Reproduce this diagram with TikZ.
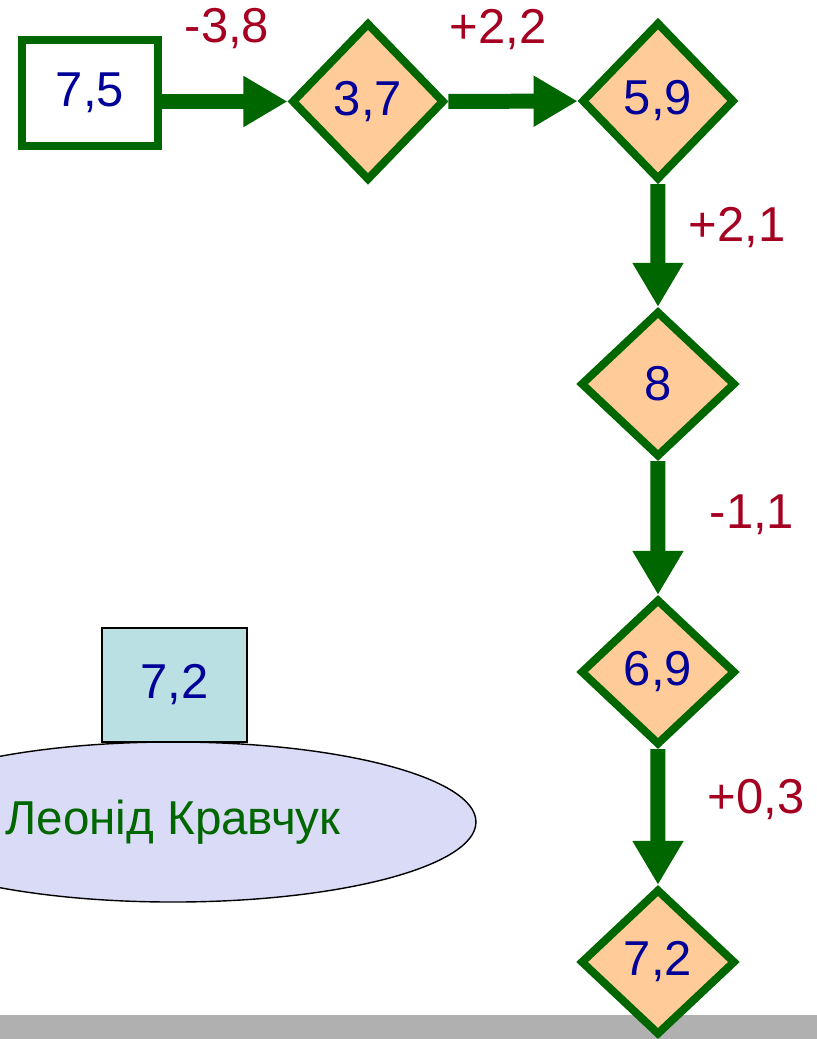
\documentclass[tikz,border=0pt]{standalone}
\usepackage{fontspec}
\setmainfont{Liberation Sans}
\usetikzlibrary{shapes.geometric,arrows.meta}
\definecolor{dgreen}{RGB}{0,102,0}
\definecolor{peach}{RGB}{255,204,153}
\definecolor{dblue}{RGB}{0,0,153}
\definecolor{dred}{RGB}{165,0,33}
\definecolor{lcyan}{RGB}{187,224,227}
\definecolor{lviolet}{RGB}{218,219,247}
\definecolor{bargray}{RGB}{176,176,176}

\begin{document}
\begin{tikzpicture}[scale=0.15]
	\tikzstyle{every node}+=[inner sep=0pt, font=\fontsize{20.9pt}{25pt}\selectfont]
	\tikzstyle{val}=[shape=diamond, draw=dgreen, line width=3.4pt, fill=peach, text=dblue, minimum width=66.2pt, minimum height=62.4pt]
	\tikzstyle{valtop}=[val, minimum width=65.3pt, minimum height=67.5pt]
	\tikzstyle{delta}=[text=dred, anchor=base]
	\tikzstyle{flow}=[dgreen, line width=6.4pt, -{Triangle[length=18.8pt,width=20.5pt]}]
	\useasboundingbox (0,0) rectangle (81.7,-103.9);
	\clip (0,0) rectangle (81.7,-103.9);
	\fill [bargray] (0,-101.5) rectangle (81.7,-103.9);
	\node [draw=dgreen, line width=3.4pt, fill=white, text=dblue, minimum width=58pt, minimum height=45.2pt] (start) at (9,-9.3) {7,5};
	\node [valtop] (v1) at (36.8,-10.15) {3,7};
	\node [valtop] (v2) at (65.8,-10.1) {5,9};
	\node [val] (v3) at (65.8,-38.4) {8};
	\node [val] (v4) at (65.8,-67.2) {6,9};
	\node [val] (v5) at (65.8,-96.2) {7,2};
	\draw [flow] (start.east |- v1.west) -- (v1.west);
	\draw [flow] (v1) -- (v2);
	\draw [flow] (v2) -- (v3);
	\draw [flow] (v3) -- (v4);
	\draw [flow] (v4) -- (v5);
	\node [delta] (d1) at (22.7,-4.3) {-3,8};
	\node [delta] (d2) at (49.8,-4.4) {+2,2};
	\node [delta] (d3) at (73.7,-24.1) {+2,1};
	\node [delta] (d4) at (75.2,-52.8) {-1,1};
	\node [delta] (d5) at (75.6,-81.3) {+0,3};
	\node [shape=ellipse, draw=black, line width=0.6pt, fill=lviolet, text=dgreen, minimum width=258.6pt, minimum height=68.3pt, font=\fontsize{20.3pt}{24pt}\selectfont] (name) at (17.3,-82.2) {Леонід Кравчук};
	\node [draw=black, line width=0.6pt, fill=lcyan, text=dblue, minimum width=61.9pt, minimum height=48.7pt] (avg) at (17.45,-68.5) {7,2};
\end{tikzpicture}
\end{document}
